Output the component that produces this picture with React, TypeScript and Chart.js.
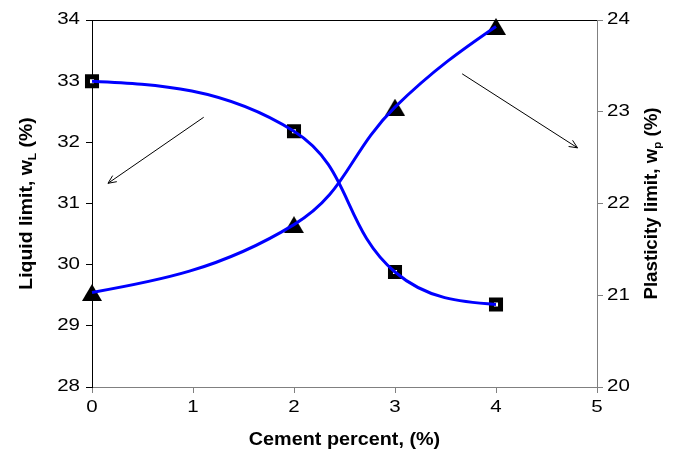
import React, { useEffect, useRef } from "react";
import { Chart, registerables } from "chart.js";

Chart.register(...registerables);

// ---- data ----
const cementPercent = [0, 2, 3, 4];
const liquidLimit = [33.0, 32.18, 29.88, 29.35];
const plasticLimit = [21.03, 21.77, 23.05, 23.93];
const xTickValues = [0, 1, 2, 3, 4, 5];
const leftTickValues = [28, 29, 30, 31, 32, 33, 34];
const rightTickValues = [20, 21, 22, 23, 24];
// annotation arrows in (x, left-axis y) data units: [fromX, fromY, toX, toY]
const arrowLL = [1.106, 32.41, 0.158, 31.33];
const arrowPL = [3.665, 33.12, 4.807, 31.91];

const xTitle = "Cement percent, (%)";
const leftTitleParts = ["Liquid limit, w", "L", " (%)"];
const rightTitleParts = ["Plasticity limit, w", "p", " (%)"];

const FONT = "'Liberation Sans', Arial, sans-serif";
const TICK_FONT = `16px ${FONT}`;
const TICK_STRETCH = 1.28;

function makeTriangle(): HTMLCanvasElement {
  const c = document.createElement("canvas");
  c.width = 20;
  c.height = 17;
  const g = c.getContext("2d")!;
  g.fillStyle = "#000";
  g.beginPath();
  g.moveTo(10, 0);
  g.lineTo(20, 17);
  g.lineTo(0, 17);
  g.closePath();
  g.fill();
  return c;
}

function drawRich(
  ctx: CanvasRenderingContext2D,
  parts: string[],
  cx: number,
  cy: number,
  angle: number,
  size: number,
  subSize: number,
  subDy: number,
  sx: number
) {
  ctx.save();
  ctx.translate(cx, cy);
  ctx.rotate(angle);
  ctx.scale(sx, 1);
  ctx.textBaseline = "alphabetic";
  ctx.textAlign = "left";
  ctx.fillStyle = "#000";
  const fonts = parts.map((_, i) => (i === 1 ? `bold ${subSize}px ${FONT}` : `bold ${size}px ${FONT}`));
  const widths = parts.map((p, i) => {
    ctx.font = fonts[i];
    return ctx.measureText(p).width;
  });
  const total = widths.reduce((a, b) => a + b, 0);
  let x = -total / 2;
  const base = size * 0.36;
  parts.forEach((p, i) => {
    ctx.font = fonts[i];
    ctx.fillText(p, x, base + (i === 1 ? subDy : 0));
    x += widths[i];
  });
  ctx.restore();
}

function drawStretched(
  ctx: CanvasRenderingContext2D,
  text: string,
  x: number,
  y: number,
  align: CanvasTextAlign
) {
  ctx.save();
  ctx.translate(x, y);
  ctx.scale(TICK_STRETCH, 1);
  ctx.font = TICK_FONT;
  ctx.fillStyle = "#000";
  ctx.textAlign = align;
  ctx.textBaseline = "middle";
  ctx.fillText(text, 0, 0);
  ctx.restore();
}

function drawArrow(ctx: CanvasRenderingContext2D, x1: number, y1: number, x2: number, y2: number) {
  ctx.beginPath();
  ctx.moveTo(x1, y1);
  ctx.lineTo(x2, y2);
  const ang = Math.atan2(y2 - y1, x2 - x1);
  const L = 9;
  const spread = 0.42;
  ctx.moveTo(x2 - L * Math.cos(ang - spread), y2 - L * Math.sin(ang - spread));
  ctx.lineTo(x2, y2);
  ctx.lineTo(x2 - L * Math.cos(ang + spread), y2 - L * Math.sin(ang + spread));
  ctx.stroke();
}

// Excel-like smoothed ends: pull the end control points towards the neighbour's control point
const smoothEndsPlugin = {
  id: "smoothEnds",
  beforeDatasetDraw(chart: any, args: any) {
    const ds = chart.data.datasets[args.index];
    if (!ds || ds.showLine === false) return;
    const meta = args.meta;
    if (!meta.dataset) return;
    meta.dataset.updateControlPoints(chart.chartArea, "x");
    const pts = meta.data;
    const n = pts.length;
    if (n < 3) return;
    const p0 = pts[0];
    const p1 = pts[1];
    p0.cp2x = p0.x + (p1.cp1x - p0.x) * 0.5;
    p0.cp2y = p0.y + (p1.cp1y - p0.y) * 0.5;
    const pn = pts[n - 1];
    const pm = pts[n - 2];
    pn.cp1x = pn.x + (pm.cp2x - pn.x) * 0.5;
    pn.cp1y = pn.y + (pm.cp2y - pn.y) * 0.5;
  },
};

const decorPlugin = {
  id: "decor",
  afterDraw(chart: any) {
    const { ctx, chartArea, scales } = chart;
    const xs = scales.x;
    const ys = scales.y;
    const ys2 = scales.y2;
    ctx.save();
    // top frame line
    ctx.strokeStyle = "#000";
    ctx.lineWidth = 1;
    ctx.beginPath();
    ctx.moveTo(chartArea.left, Math.round(chartArea.top) + 0.5);
    ctx.lineTo(chartArea.right, Math.round(chartArea.top) + 0.5);
    ctx.stroke();
    // arrows
    for (const a of [arrowLL, arrowPL]) {
      drawArrow(
        ctx,
        xs.getPixelForValue(a[0]),
        ys.getPixelForValue(a[1]),
        xs.getPixelForValue(a[2]),
        ys.getPixelForValue(a[3])
      );
    }
    // tick labels (horizontally stretched like the original)
    xTickValues.forEach((v) => drawStretched(ctx, String(v), xs.getPixelForValue(v), chartArea.bottom + 21, "center"));
    leftTickValues.forEach((v) => drawStretched(ctx, String(v), chartArea.left - 12, ys.getPixelForValue(v), "right"));
    rightTickValues.forEach((v) => drawStretched(ctx, String(v), chartArea.right + 10, ys2.getPixelForValue(v), "left"));
    // titles
    const midY = (chartArea.top + chartArea.bottom) / 2;
    drawRich(ctx, [xTitle, "", ""], (chartArea.left + chartArea.right) / 2, 439, 0, 18, 11, 0, 1.1);
    drawRich(ctx, leftTitleParts, 26, midY, -Math.PI / 2, 18, 11, 4, 1.08);
    drawRich(ctx, rightTitleParts, 651, midY, -Math.PI / 2, 18, 11, 4, 1.04);
    ctx.restore();
  },
};

export default function App() {
  const ref = useRef<HTMLCanvasElement>(null);
  useEffect(() => {
    if (!ref.current) return;
    const tri = makeTriangle();
    const llPts = cementPercent.map((x, i) => ({ x, y: liquidLimit[i] }));
    const plPts = cementPercent.map((x, i) => ({ x, y: plasticLimit[i] }));
    const hiddenTicks = { color: "rgba(0,0,0,0)", font: { size: 16, family: FONT } };
    const chart = new Chart(ref.current, {
      type: "line",
      data: {
        datasets: [
          {
            label: "LL line",
            data: llPts,
            yAxisID: "y",
            showLine: true,
            borderColor: "#0000FF",
            borderWidth: 3,
            tension: 0.42,
            pointRadius: 0,
            fill: false,
            clip: false,
            order: 0,
          },
          {
            label: "PL line",
            data: plPts,
            yAxisID: "y2",
            showLine: true,
            borderColor: "#0000FF",
            borderWidth: 3,
            tension: 0.42,
            pointRadius: 0,
            fill: false,
            clip: false,
            order: 0,
          },
          {
            label: "Liquid limit",
            data: llPts,
            yAxisID: "y",
            showLine: false,
            pointStyle: "rect",
            pointRadius: 6.4,
            pointBorderWidth: 5,
            pointBorderColor: "#000",
            pointBackgroundColor: "#fff",
            clip: false,
            order: 1,
          },
          {
            label: "Plasticity limit",
            data: plPts,
            yAxisID: "y2",
            showLine: false,
            pointStyle: tri as any,
            pointRadius: 10,
            clip: false,
            order: 1,
          },
        ],
      },
      options: {
        animation: false,
        responsive: false,
        maintainAspectRatio: false,
        layout: { padding: { top: 20, left: 0, right: 0, bottom: 0 } },
        plugins: { legend: { display: false }, tooltip: { enabled: false } },
        scales: {
          x: {
            type: "linear",
            min: 0,
            max: 5,
            afterBuildTicks: (s: any) => {
              s.ticks = xTickValues.map((v) => ({ value: v }));
            },
            afterFit: (s: any) => {
              s.height = 62;
            },
            grid: { drawOnChartArea: false, drawTicks: true, tickLength: 6, color: "#808080" },
            border: { color: "#808080", width: 1 },
            ticks: { ...hiddenTicks, padding: 6, maxRotation: 0 },
          },
          y: {
            position: "left",
            min: 28,
            max: 34,
            afterBuildTicks: (s: any) => {
              s.ticks = leftTickValues.map((v) => ({ value: v }));
            },
            afterFit: (s: any) => {
              s.width = 92;
            },
            grid: { drawOnChartArea: false, drawTicks: true, tickLength: 6, color: "#000" },
            border: { color: "#000", width: 1 },
            ticks: { ...hiddenTicks, padding: 6 },
          },
          y2: {
            position: "right",
            min: 20,
            max: 24,
            afterBuildTicks: (s: any) => {
              s.ticks = rightTickValues.map((v) => ({ value: v }));
            },
            afterFit: (s: any) => {
              s.width = 79;
            },
            grid: { drawOnChartArea: false, drawTicks: true, tickLength: 6, color: "#808080" },
            border: { color: "#808080", width: 1 },
            ticks: { ...hiddenTicks, padding: 4 },
          },
        },
      },
      plugins: [smoothEndsPlugin, decorPlugin],
    } as any);
    return () => chart.destroy();
  }, []);
  return (
    <div style={{ position: "absolute", left: 0, top: 0, width: 676, height: 449, background: "#fff" }}>
      <canvas ref={ref} width={676} height={449} style={{ width: 676, height: 449, display: "block" }} />
    </div>
  );
}
